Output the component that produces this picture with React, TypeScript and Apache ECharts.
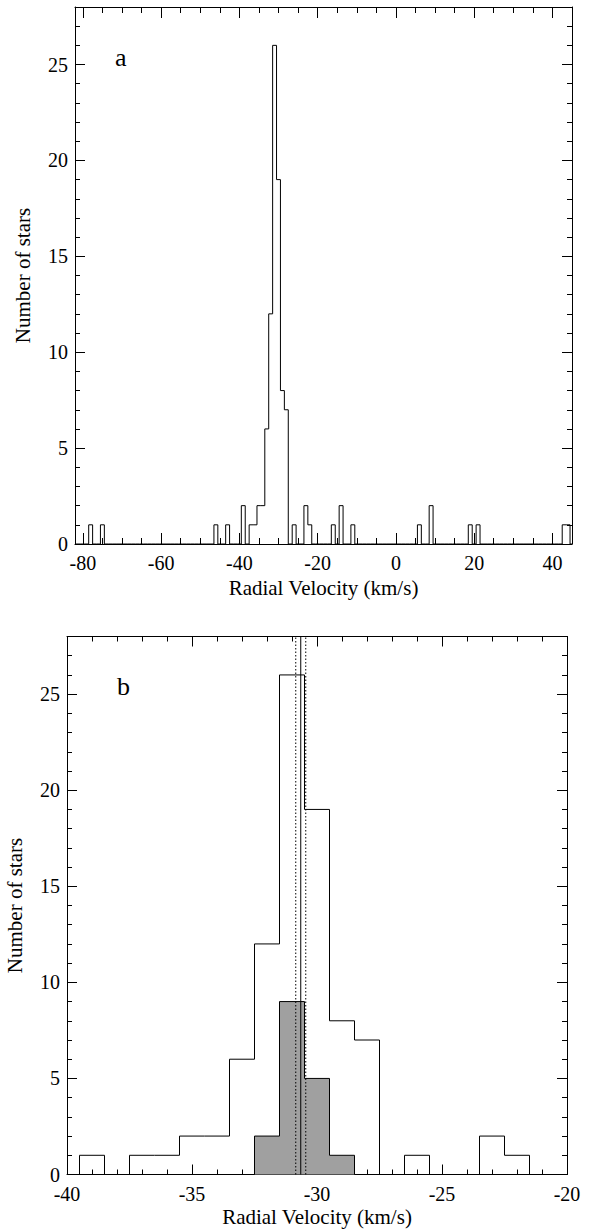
import React, { useEffect, useRef } from "react";
import * as echarts from "echarts";

const FONT = "Liberation Serif";

// Panel a: 1 km/s bins (centres) and star counts
const binsA = [-78, -75, -46, -43, -39, -37, -36, -35, -34, -33, -32, -31, -30, -29, -28, -26, -23, -22, -16, -14, -11, 6, 9, 19, 21, 43, 44];
const countsA = [1, 1, 1, 1, 2, 1, 1, 2, 2, 6, 12, 26, 19, 8, 7, 1, 2, 1, 1, 2, 1, 1, 2, 1, 1, 1, 1];

// Panel b: all stars (outline) and members (grey)
const binsB = [-39, -37, -36, -35, -34, -33, -32, -31, -30, -29, -28, -26, -23, -22];
const countsB = [1, 1, 1, 2, 2, 6, 12, 26, 19, 8, 7, 1, 2, 1];
const binsGrey = [-32, -31, -30, -29];
const countsGrey = [2, 9, 5, 1];

// Mean velocity and its error bounds (panel b)
const meanVel = -30.65;
const errBounds = [-30.85, -30.45];

// Axes
const xRangeA = [-82, 45];
const xTicksA = [-80, -60, -40, -20, 0, 20, 40];
const xRangeB = [-40, -20];
const xTicksB = [-40, -35, -30, -25, -20];
const yRange = [0, 28];
const yTicks = [0, 5, 10, 15, 20, 25];

const BIN_W = 1;

function seq(a: number, b: number, step: number) {
  const out: number[] = [];
  for (let v = a; v <= b + 1e-9; v += step) out.push(Math.round(v * 1000) / 1000);
  return out;
}

function fullStep(bins: number[], counts: number[], xmin: number, xmax: number) {
  const m = new Map<number, number>();
  bins.forEach((b, i) => m.set(b, counts[i]));
  const first = Math.ceil(xmin + BIN_W / 2);
  const last = Math.floor(xmax - BIN_W / 2);
  const pts: number[][] = [[xmin, 0], [first - BIN_W / 2, 0]];
  for (let c = first; c <= last; c++) {
    const n = m.get(c) || 0;
    pts.push([c - BIN_W / 2, n], [c + BIN_W / 2, n]);
  }
  pts.push([last + BIN_W / 2, 0], [xmax, 0]);
  return pts;
}

function localStep(bins: number[], counts: number[]) {
  const pts: number[][] = [[bins[0] - BIN_W / 2, 0]];
  bins.forEach((c, i) => {
    pts.push([c - BIN_W / 2, counts[i]], [c + BIN_W / 2, counts[i]]);
  });
  pts.push([bins[bins.length - 1] + BIN_W / 2, 0]);
  return pts;
}

const black = { color: "#000", width: 1 };

function axesFor(kind: "x" | "y", grid: number, range: number[], majors: number[], minors: number[], majLen: number, minLen: number) {
  const sides = kind === "x" ? ["bottom", "top"] : ["left", "right"];
  const base = {
    type: "value",
    gridIndex: grid,
    min: range[0],
    max: range[1],
    splitLine: { show: false },
    splitArea: { show: false },
  };
  const out: any[] = [];
  sides.forEach((pos, si) => {
    out.push({
      ...base,
      position: pos,
      axisLine: { show: true, onZero: false, lineStyle: black },
      axisTick: { show: true, inside: true, length: majLen, customValues: majors, lineStyle: black },
      axisLabel: si === 0
        ? {
            show: true,
            customValues: majors,
            margin: kind === "x" ? 9 : 7,
            color: "#000",
            fontSize: 20,
            fontFamily: FONT,
          }
        : { show: false },
    });
    out.push({
      ...base,
      position: pos,
      axisLine: { show: false, onZero: false },
      axisTick: { show: true, inside: true, length: minLen, customValues: minors, lineStyle: black },
      axisLabel: { show: false },
    });
  });
  return out;
}

export default function App() {
  const ref = useRef<HTMLDivElement>(null);

  useEffect(() => {
    if (!ref.current) return;
    const chart = echarts.init(ref.current, undefined, { renderer: "svg" });

    const gridA = { left: 75, top: 7, width: 497, height: 537 };
    const gridB = { left: 67, top: 636.5, width: 500, height: 538 };

    const xMinorA = seq(-80, 40, 5);
    const xMinorB = seq(-40, -20, 1);
    const yMinor = seq(1, 27, 1);

    const lineSeries = (xi: number, data: number[][], extra: any = {}) => ({
      type: "line",
      xAxisIndex: xi,
      yAxisIndex: xi,
      data,
      symbol: "none",
      showSymbol: false,
      silent: true,
      lineStyle: { color: "#000", width: 1 },
      z: 3,
      ...extra,
    });

    const text = (t: string, x: number, y: number, size: number, extra: any = {}) => ({
      type: "text",
      x,
      y,
      silent: true,
      ...extra,
      style: {
        text: t,
        fill: "#000",
        fontSize: size,
        fontFamily: FONT,
        align: "center",
        verticalAlign: "middle",
        ...(extra.style || {}),
      },
    });

    const option: any = {
      animation: false,
      backgroundColor: "#fff",
      textStyle: { fontFamily: FONT },
      grid: [
        { ...gridA, containLabel: false, outerBoundsMode: "none" },
        { ...gridB, containLabel: false, outerBoundsMode: "none" },
      ],
      xAxis: [
        ...axesFor("x", 0, xRangeA, xTicksA, xMinorA, 11, 6),
        ...axesFor("x", 1, xRangeB, xTicksB, xMinorB, 10, 5),
      ],
      yAxis: [
        ...axesFor("y", 0, yRange, yTicks, yMinor, 10, 5),
        ...axesFor("y", 1, yRange, yTicks, yMinor, 10, 5),
      ],
      series: [
        lineSeries(0, fullStep(binsA, countsA, xRangeA[0], xRangeA[1])),
        lineSeries(4, localStep(binsGrey, countsGrey), {
          areaStyle: { color: "#a0a0a0", opacity: 1 },
          z: 2,
        }),
        lineSeries(4, fullStep(binsB, countsB, xRangeB[0], xRangeB[1])),
        lineSeries(4, [[meanVel, yRange[0]], [meanVel, yRange[1]]], { z: 4 }),
        ...errBounds.map((v) =>
          lineSeries(4, [[v, yRange[0]], [v, yRange[1]]], {
            z: 4,
            lineStyle: { color: "#000", width: 1, type: [1.5, 2] },
          })
        ),
      ],
      graphic: [
        text("a", 115, 57, 26, { style: { align: "left" } }),
        text("b", 117, 686, 26, { style: { align: "left" } }),
        text("Radial Velocity (km/s)", gridA.left + gridA.width / 2, 588, 21),
        text("Radial Velocity (km/s)", gridB.left + gridB.width / 2, 1216.5, 21),
        text("Number of stars", 23, gridA.top + gridA.height / 2, 21, { rotation: Math.PI / 2 }),
        text("Number of stars", 15, gridB.top + gridB.height / 2, 21, { rotation: Math.PI / 2 }),
      ],
    };

    chart.setOption(option);
    return () => chart.dispose();
  }, []);

  return (
    <div
      ref={ref}
      style={{ position: "absolute", left: 0, top: 0, width: 598, height: 1229, background: "#fff" }}
    />
  );
}
